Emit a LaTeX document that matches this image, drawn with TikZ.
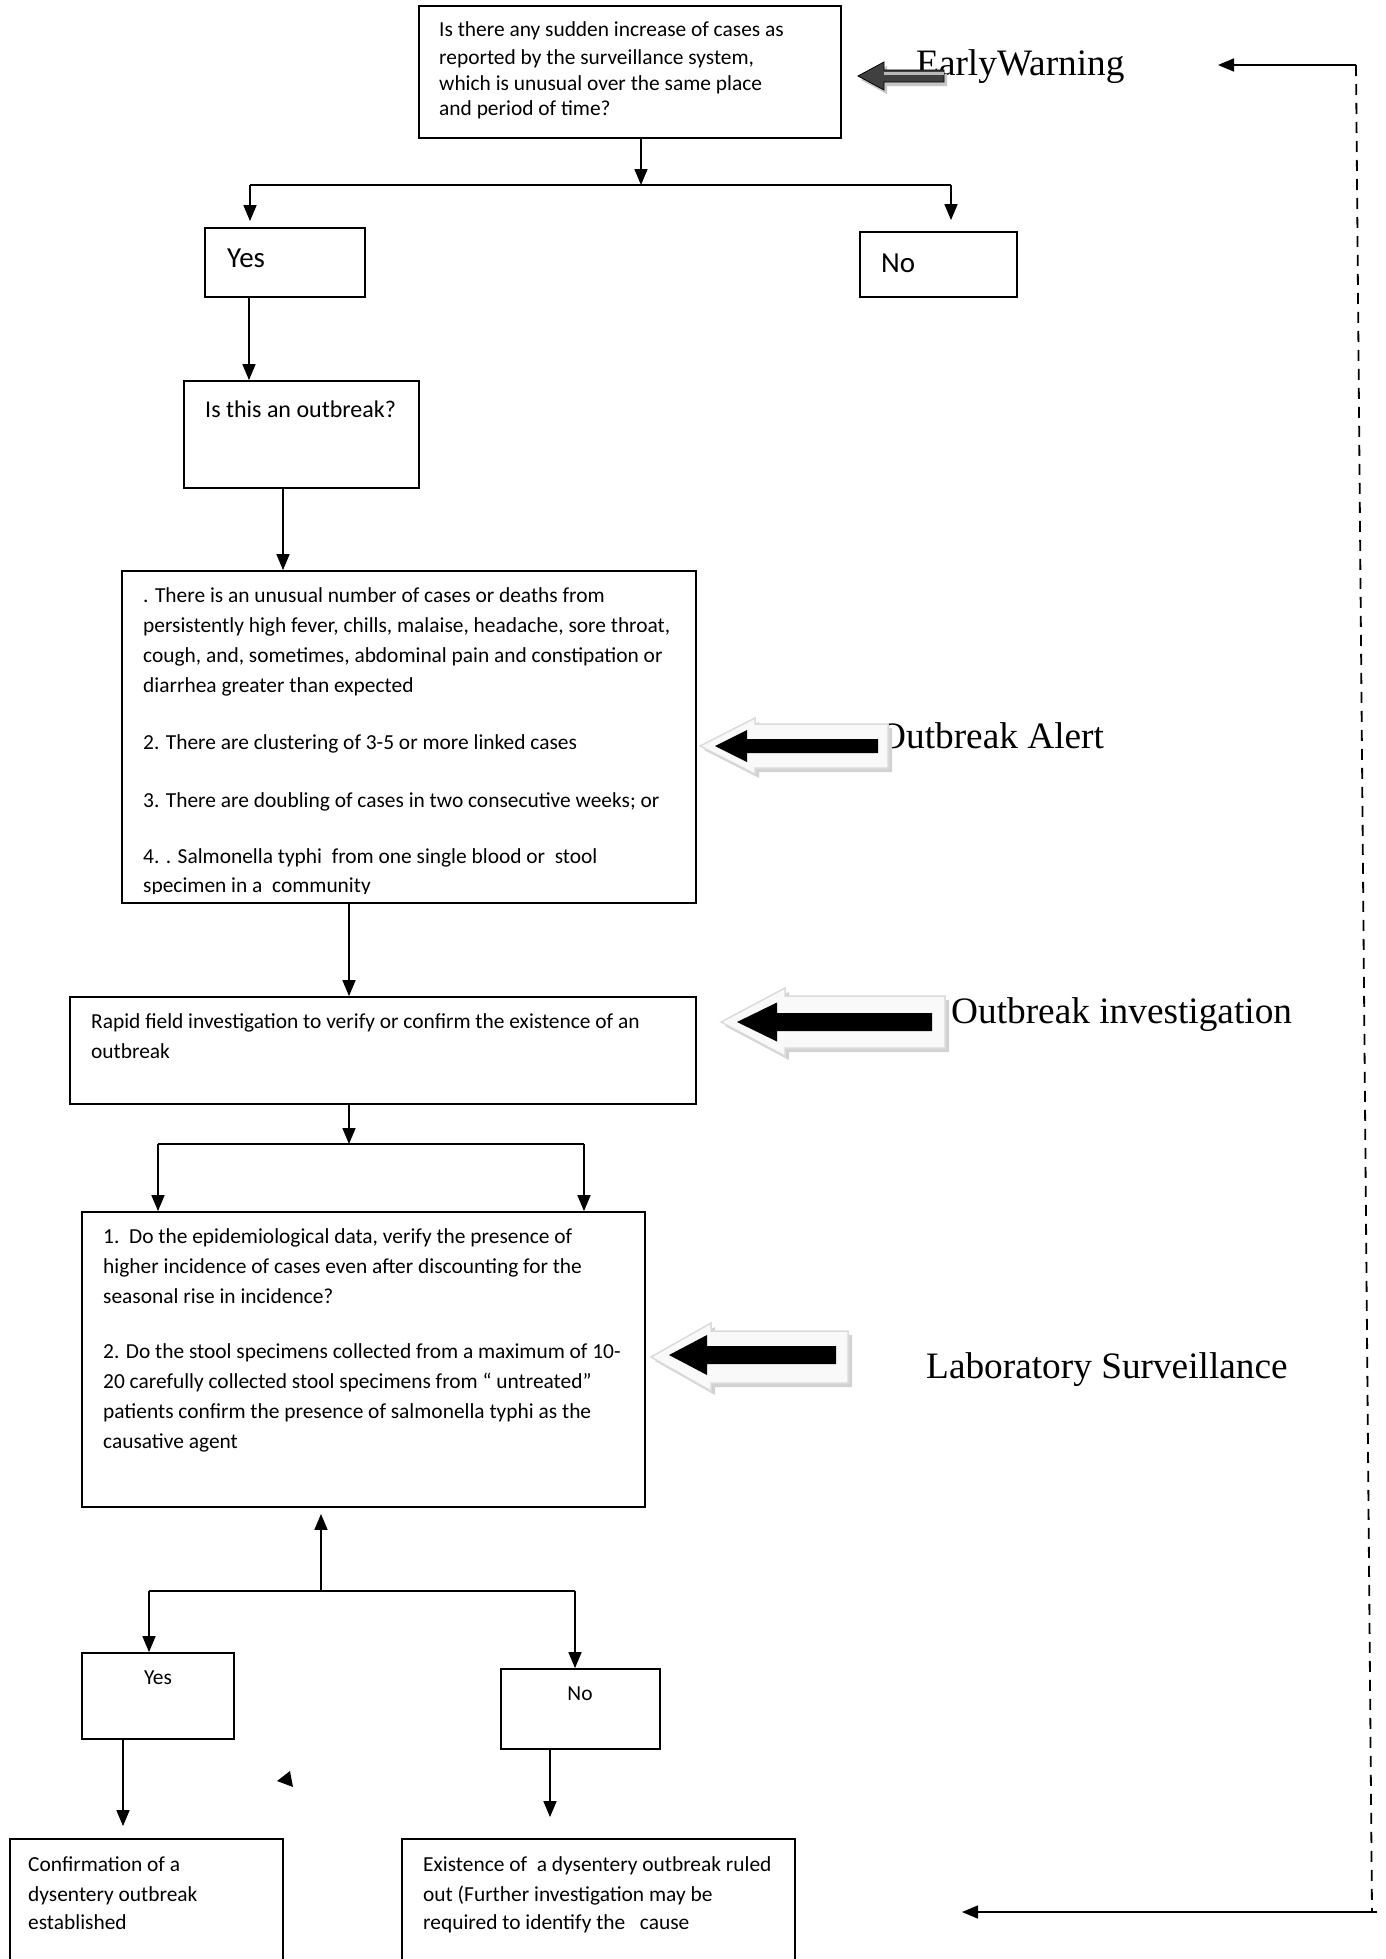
\documentclass[tikz,border=0pt]{standalone}
\usepackage{fontspec}
\setmainfont{Carlito}
\newfontfamily\tnr{Liberation Serif}
\usetikzlibrary{arrows.meta}
\begin{document}
\begin{tikzpicture}[x=1pt,y=-1pt,
 bx/.style={draw,line width=1.8pt,inner sep=0pt,rectangle},
 tx/.style={inner sep=0pt,anchor=base west,font=\fontsize{21.4}{30}\selectfont},
 tt/.style={inner sep=0pt,anchor=base west,font=\fontsize{21.4}{25}\selectfont},
 tb/.style={inner sep=0pt,anchor=base west,font=\fontsize{29}{32}\selectfont},
 lb/.style={inner sep=0pt,anchor=base west,font=\tnr\fontsize{37.3}{44}\selectfont},
 arr/.style={line width=1.6pt,-{Triangle[length=16pt,width=13pt]}},
 ln/.style={line width=1.6pt},
 outerarr/.style={fill=gray!5,draw=gray!28,line width=1.5pt},
 shad/.style={fill=gray!35},
 innerarr/.style={fill=black}]
\useasboundingbox (0,0) rectangle (1386,1959);
\fill[white] (0,0) rectangle (1386,1959);

% ---------- boxes ----------
\node[bx,minimum width=422pt,minimum height=132pt] (top) at (630,72) {};
\node[bx,minimum width=160pt,minimum height=69pt] (yes1) at (285,262.5) {};
\node[bx,minimum width=157pt,minimum height=65pt] (no1) at (938.5,264.5) {};
\node[bx,minimum width=235pt,minimum height=107pt] (isthis) at (301.5,434.5) {};
\node[bx,minimum width=574pt,minimum height=332pt] (alert) at (409,737) {};
\node[bx,minimum width=626pt,minimum height=107pt] (inv) at (383,1050.5) {};
\node[bx,minimum width=563pt,minimum height=295pt] (lab) at (363.5,1359.5) {};
\node[bx,minimum width=152pt,minimum height=86pt] (yes2) at (158,1696) {};
\node[bx,minimum width=159pt,minimum height=80pt] (no2) at (580.5,1709) {};
\node[bx,minimum width=273pt,minimum height=151pt] (conf) at (146.5,1914.5) {};
\node[bx,minimum width=393pt,minimum height=151pt] (exist) at (598.5,1914.5) {};

% ---------- texts ----------
\node[tt] (t1) at (439,37) {Is there any sudden increase of cases as};
\node[tt] (t2) at (439,65) {reported by the surveillance system,};
\node[tt] (t3) at (439,90) {which is unusual over the same place};
\node[tt] (t4) at (439,115) {and period of time?};

\node[tb] (tyes1) at (227,267) {Yes};
\node[tb] (tno1) at (881,272) {No};
\node[inner sep=0pt,anchor=base west,font=\fontsize{24}{28}\selectfont] (tis) at (205,417) {Is this an outbreak?};

\begin{scope}
\clip (122,571) rectangle (696,893);
\node[tx] (a1) at (143,602) {. There is an unusual number of cases or deaths from};
\node[tx] (a2) at (143,632) {persistently high fever, chills, malaise, headache, sore throat,};
\node[tx] (a3) at (143,662) {cough, and, sometimes, abdominal pain and constipation or};
\node[tx] (a4) at (143,692) {diarrhea greater than expected};
\node[tx] (a5) at (143,749) {2. There are clustering of 3-5 or more linked cases};
\node[tx] (a6) at (143,807) {3. There are doubling of cases in two consecutive weeks; or};
\node[tx] (a7) at (143,863) {4. . Salmonella typhi\ \ from one single blood or\ \ stool};
\node[tx] (a8) at (143,892) {specimen in a\ \ community};
\end{scope}

\node[tx] (i1) at (91,1028) {Rapid field investigation to verify or confirm the existence of an};
\node[tx] (i2) at (91,1058) {outbreak};

\node[tx] (l1) at (103,1243) {1.\ \ Do the epidemiological data, verify the presence of};
\node[tx] (l2) at (103,1273) {higher incidence of cases even after discounting for the};
\node[tx] (l3) at (103,1303) {seasonal rise in incidence?};
\node[tx] (l4) at (103,1358) {2. Do the stool specimens collected from a maximum of 10-};
\node[tx] (l5) at (103,1388) {20 carefully collected stool specimens from “ untreated”};
\node[tx] (l6) at (103,1418) {patients confirm the presence of salmonella typhi as the};
\node[tx] (l7) at (103,1448) {causative agent};

\node[tx,anchor=base] (tyes2) at (158,1684) {Yes};
\node[tx,anchor=base] (tno2) at (580,1700) {No};

\node[tx] (c1) at (28,1871) {Confirmation of a};
\node[tx] (c2) at (28,1901) {dysentery outbreak};
\node[tx] (c3) at (28,1929) {established};

\node[tx] (e1) at (423,1871) {Existence of\ \ a dysentery outbreak ruled};
\node[tx] (e2) at (423,1901) {out (Further investigation may be};
\node[tx] (e3) at (423,1929) {required to identify the\ \ \ cause};

% ---------- side labels ----------
\node[lb] (lew) at (916,75) {EarlyWarning};
\node[lb] (loa) at (879,748) {Outbreak Alert};
\node[lb] (loi) at (951,1023) {Outbreak investigation};
\node[lb] (lls) at (926,1378) {Laboratory Surveillance};

% ---------- block arrows ----------
% Early warning
\fill[gray!45] (861,80) -- (887,66) -- (887,74) -- (947,74) -- (947,86) -- (887,86) -- (887,94) -- cycle;
\filldraw[fill=black!75,draw=black,line width=0.8pt] (858,76) -- (884,62) -- (884,70) -- (944,70) -- (944,82) -- (884,82) -- (884,90) -- cycle;
\fill[gray!55] (884,72) rectangle (944,75);

% Outbreak alert
\fill[shad] (704,750) -- (759,722) -- (759,728) -- (892,728) -- (892,772) -- (759,772) -- (759,778) -- cycle;
\filldraw[outerarr] (700,746) -- (755,718) -- (755,724) -- (888,724) -- (888,768) -- (755,768) -- (755,774) -- cycle;
\fill[innerarr] (715,746) -- (747,730) -- (747,739) -- (878,739) -- (878,753) -- (747,753) -- (747,762) -- cycle;

% Outbreak investigation
\fill[shad] (725,1026) -- (789,992) -- (789,1000) -- (949,1000) -- (949,1052) -- (789,1052) -- (789,1060) -- cycle;
\filldraw[outerarr] (721,1022) -- (785,988) -- (785,996) -- (945,996) -- (945,1048) -- (785,1048) -- (785,1056) -- cycle;
\fill[innerarr] (737,1022) -- (777,1002.5) -- (777,1013) -- (932,1013) -- (932,1031) -- (777,1031) -- (777,1041.5) -- cycle;

% Laboratory surveillance
\fill[shad] (655,1361) -- (715,1327) -- (715,1335) -- (852,1335) -- (852,1387) -- (715,1387) -- (715,1395) -- cycle;
\filldraw[outerarr] (651,1357) -- (711,1323) -- (711,1331) -- (848,1331) -- (848,1383) -- (711,1383) -- (711,1391) -- cycle;
\fill[innerarr] (669,1355) -- (707,1335) -- (707,1346) -- (836,1346) -- (836,1364) -- (707,1364) -- (707,1375) -- cycle;

% ---------- connectors ----------
\coordinate (j1) at (641,185);
\coordinate (j1L) at (250,185);
\coordinate (j1R) at (951,185);
\draw[arr] (top.south -| j1) -- (j1);
\draw[ln] (j1L) -- (j1R);
\draw[arr,shorten >=6pt] (j1L) -- (j1L |- yes1.north);
\draw[arr,shorten >=11pt] (j1R) -- (j1R |- no1.north);

\coordinate (x1) at (249,0);
\draw[arr] (yes1.south -| x1) -- (isthis.north -| x1);
\coordinate (x2) at (283,0);
\draw[arr] (isthis.south -| x2) -- (alert.north -| x2);
\coordinate (x3) at (349,0);
\draw[arr] (alert.south -| x3) -- (inv.north -| x3);

\coordinate (j2) at (349,1144);
\coordinate (j2L) at (158,1144);
\coordinate (j2R) at (584,1144);
\draw[arr] (inv.south -| j2) -- (j2);
\draw[ln] (j2L) -- (j2R);
\draw[arr] (j2L) -- (j2L |- lab.north);
\draw[arr] (j2R) -- (j2R |- lab.north);

\coordinate (j3) at (321,1591);
\coordinate (j3L) at (149,1591);
\coordinate (j3R) at (575,1591);
\draw[arr,shorten >=6pt] (j3) -- (j3 |- lab.south);
\draw[ln] (j3L) -- (j3R);
\draw[arr] (j3L) -- (j3L |- yes2.north);
\draw[arr] (j3R) -- (j3R |- no2.north);

\coordinate (x5) at (123,0);
\draw[arr,shorten >=12pt] (yes2.south -| x5) -- (conf.north -| x5);
\coordinate (x6) at (550,0);
\draw[arr,shorten >=21pt] (no2.south -| x6) -- (exist.north -| x6);

% stray arrowhead
\fill (290,1771) -- (277,1781) -- (293,1787) -- cycle;

% feedback loop
\coordinate (fbT) at (1356,65);
\coordinate (fbB) at (1372,1912);
\coordinate (fbBR) at (1377,1912);
\coordinate (ewtip) at (1218,65);
\coordinate (fbtip) at (962,1912);
\draw[line width=1.8pt,dash pattern=on 11pt off 8pt] (fbT) -- (fbB);
\draw[arr] (fbT) -- (ewtip);
\draw[arr] (fbBR) -- (fbtip);
\end{tikzpicture}
\end{document}
